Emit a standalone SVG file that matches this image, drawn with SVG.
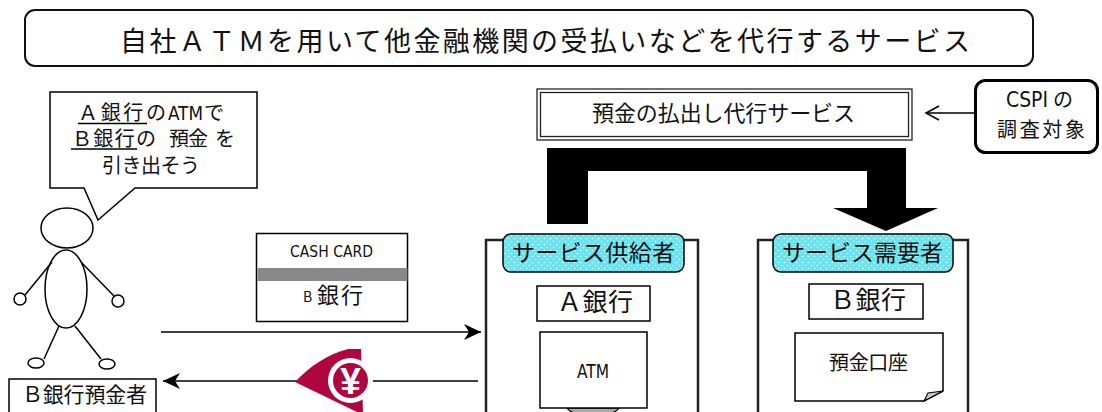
<svg xmlns="http://www.w3.org/2000/svg" width="1102" height="412" viewBox="0 0 1102 412">
  <style>
    .jp { font-family: "Noto Sans CJK JP", "Noto Sans", sans-serif; fill: #111; }
    .narrow { font-family: "DejaVu Sans Condensed", "Liberation Sans Narrow", "Liberation Sans", sans-serif; fill: #111; }
    .line { fill: none; stroke: #000; stroke-width: 1.5; }
    .box { fill: #fff; stroke: #000; stroke-width: 1.5; }
    .frame { fill: #fff; stroke: #222; stroke-width: 2.5; }
    .tag { fill: url(#dots); stroke: #000; stroke-width: 1.5; }
  </style>
  <defs>
    <pattern id="dots" width="6" height="6" patternUnits="userSpaceOnUse">
      <rect width="6" height="6" fill="#66e4ef"/>
      <circle cx="1.5" cy="1.5" r="0.8" fill="#ffffff"/>
      <circle cx="4.5" cy="4.5" r="0.8" fill="#ffffff"/>
    </pattern>
    <marker id="arrowFill" markerWidth="18" markerHeight="16" refX="17" refY="8" orient="auto" markerUnits="userSpaceOnUse">
      <path d="M0,0 L17,8 L0,16 L5,8 Z" fill="#000"/>
    </marker>
  </defs>

  <rect width="1102" height="412" fill="#fff"/>

  <!-- title -->
  <g id="title">
    <rect x="25" y="10" width="1008" height="56" rx="10" fill="#fff" stroke="#111" stroke-width="2"/>
    <text class="jp" x="120" y="51" font-size="27" textLength="850" lengthAdjust="spacing">自社ＡＴＭを用いて他金融機関の受払いなどを代行するサービス</text>
  </g>

  <!-- speech bubble -->
  <g id="bubble">
    <path class="box" d="M50,92 L257,92 L257,188 L135,188 L98,220 L84,188 L50,188 Z"/>
    <text class="jp" x="78" y="120" font-size="20" textLength="88" lengthAdjust="spacing">Ａ銀行の</text>
    <text class="narrow" x="168" y="120" font-size="19" textLength="35" lengthAdjust="spacingAndGlyphs">ATM</text>
    <text class="jp" x="204" y="120" font-size="20">で</text>
    <line class="line" x1="78" y1="123.5" x2="147" y2="123.5" stroke-width="1.3"/>
    <text class="jp" x="72" y="146" font-size="20" textLength="84" lengthAdjust="spacing">Ｂ銀行の</text>
    <text class="jp" x="169" y="146" font-size="20" textLength="39" lengthAdjust="spacing">預金</text>
    <text class="jp" x="215" y="146" font-size="20">を</text>
    <line class="line" x1="71" y1="149" x2="137" y2="149" stroke-width="1.3"/>
    <text class="jp" x="102" y="173" font-size="20" textLength="98" lengthAdjust="spacing">引き出そう</text>
  </g>

  <!-- depositor figure -->
  <g id="person" class="line" stroke-width="1.3">
    <ellipse cx="67" cy="228" rx="26" ry="20" fill="#fff"/>
    <ellipse cx="66" cy="289" rx="21" ry="39" fill="#fff"/>
    <line x1="52" y1="262" x2="25" y2="295"/>
    <circle cx="20" cy="299" r="6" fill="#fff"/>
    <line x1="81" y1="262" x2="114" y2="296"/>
    <circle cx="118" cy="301" r="6" fill="#fff"/>
    <line x1="59" y1="326" x2="44" y2="359"/>
    <ellipse cx="36" cy="363" rx="8" ry="5" fill="#fff"/>
    <line x1="75" y1="326" x2="101" y2="359"/>
    <ellipse cx="107" cy="364" rx="8" ry="5" fill="#fff"/>
  </g>

  <g id="depositor-label">
    <rect class="box" x="9" y="379" width="147" height="40"/>
    <text class="jp" x="22" y="402" font-size="21" textLength="125" lengthAdjust="spacing">Ｂ銀行預金者</text>
  </g>

  <!-- cash card -->
  <g id="card">
    <rect class="box" x="256.5" y="233.5" width="151" height="88" stroke-width="1.3"/>
    <text class="narrow" x="290" y="257" font-size="16" textLength="83" lengthAdjust="spacingAndGlyphs">CASH CARD</text>
    <rect x="257.5" y="268" width="150" height="13" fill="#888"/>
    <text class="jp" x="303" y="302" font-size="14">B</text>
    <text class="jp" x="317" y="303" font-size="22" textLength="46" lengthAdjust="spacing">銀行</text>
  </g>

  <!-- connectors -->
  <g id="connectors">
    <line class="line" x1="161" y1="332" x2="481" y2="332" marker-end="url(#arrowFill)"/>
    <line class="line" x1="478" y1="381" x2="163" y2="381" marker-end="url(#arrowFill)"/>
    <line class="line" x1="975" y1="113" x2="926" y2="113"/>
    <path class="line" d="M939,106 L926,113 L939,120"/>
    <path d="M547,148 L906,148 L906,208 L938,208 L886,231 L833,208 L867,208 L867,171 L588,171 L588,224 L547,224 Z" fill="#000"/>
  </g>

  <!-- yen mark on the return flow -->
  <g id="yen">
    <path d="M295,382 C310,366 328,354 348,349 L361,349 L363,412 L357,412 Z" fill="#b0063f"/>
    <circle cx="350.5" cy="380.5" r="22.5" fill="#fff"/>
    <circle cx="350.5" cy="380.5" r="17.5" fill="#b0063f"/>
    <text x="350.5" y="394" font-family="Liberation Sans, sans-serif" font-weight="bold" font-size="37" fill="#fff" text-anchor="middle">¥</text>
  </g>

  <!-- service -->
  <g id="service">
    <rect x="537" y="89" width="375" height="51" fill="#fff" stroke="#222" stroke-width="1.3"/>
    <rect x="540.5" y="92.5" width="368" height="44" fill="none" stroke="#222" stroke-width="1.3"/>
    <text class="jp" x="592" y="121" font-size="22" textLength="263" lengthAdjust="spacing">預金の払出し代行サービス</text>
  </g>

  <g id="cspi">
    <rect x="975.5" y="80.5" width="122" height="72" rx="10" fill="#fff" stroke="#000" stroke-width="3"/>
    <text class="narrow" x="1006" y="107" font-size="21" textLength="42" lengthAdjust="spacingAndGlyphs">CSPI</text>
    <text class="jp" x="1053" y="107" font-size="20">の</text>
    <text class="jp" x="997" y="137" font-size="20" textLength="88" lengthAdjust="spacing">調査対象</text>
  </g>

  <!-- supplier side -->
  <g id="supplier">
    <rect class="frame" x="486" y="240" width="212" height="200"/>
    <rect class="tag" x="503" y="234" width="181" height="38" rx="8"/>
    <text class="jp" x="512" y="261" font-size="23" textLength="163" lengthAdjust="spacing">サービス供給者</text>
    <rect class="box" x="537" y="286" width="113" height="35" stroke-width="1.3"/>
    <text class="jp" x="557" y="311" font-size="25" textLength="76" lengthAdjust="spacing">Ａ銀行</text>
    <path d="M567,408 Q570,413 577,413 L609,413 Q616,413 619,408 Z" fill="#aaa" stroke="#000" stroke-width="1.1"/>
    <rect class="box" x="540" y="332" width="107" height="76" stroke-width="1.3"/>
    <text class="narrow" x="577" y="378" font-size="20" textLength="32" lengthAdjust="spacingAndGlyphs">ATM</text>
  </g>

  <!-- demand side -->
  <g id="demand">
    <rect class="frame" x="758" y="240" width="210" height="200"/>
    <rect class="tag" x="773" y="234" width="180" height="38" rx="8"/>
    <text class="jp" x="782" y="261" font-size="23" textLength="161" lengthAdjust="spacing">サービス需要者</text>
    <rect class="box" x="809" y="284" width="114" height="35" stroke-width="1.3"/>
    <text class="jp" x="830" y="309" font-size="25" textLength="76" lengthAdjust="spacing">Ｂ銀行</text>
    <path class="box" d="M795,333 L943,333 L943,391 L924,401 L795,401 Z" stroke-width="1.3"/>
    <path d="M924,401 L928,393 L943,391 Z" fill="#ccc" stroke="#000" stroke-width="1.1"/>
    <text class="jp" x="829" y="370" font-size="20" textLength="79" lengthAdjust="spacing">預金口座</text>
  </g>
</svg>
